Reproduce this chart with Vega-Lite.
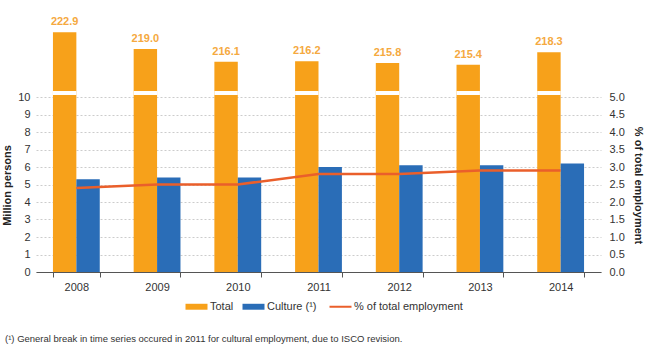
{
  "$schema": "https://vega.github.io/schema/vega-lite/v6.json",
  "width": 565,
  "height": 257,
  "autosize": {"type": "none"},
  "padding": {"left": 36, "top": 15, "right": 60, "bottom": 72},
  "background": "white",
  "config": {
    "font": "Liberation Sans",
    "view": {"stroke": null},
    "axis": {"labelFont": "Liberation Sans", "labelFontSize": 11, "labelColor": "#333333", "titleFont": "Liberation Sans", "titleColor": "#222222"},
    "legend": {"labelFont": "Liberation Sans", "labelFontSize": 11, "labelColor": "#333333"}
  },
  "title": {
    "text": "(¹) General break in time series occured in 2011 for cultural employment, due to ISCO revision.",
    "orient": "bottom",
    "anchor": "start",
    "frame": "group",
    "dx": -31,
    "offset": 22,
    "fontSize": 9.5,
    "fontWeight": "normal",
    "color": "#333333",
    "font": "Liberation Sans"
  },
  "data": {
    "values": [
      {"year": "2008", "series": "Total", "value": 222.9},
      {"year": "2009", "series": "Total", "value": 219.0},
      {"year": "2010", "series": "Total", "value": 216.1},
      {"year": "2011", "series": "Total", "value": 216.2},
      {"year": "2012", "series": "Total", "value": 215.8},
      {"year": "2013", "series": "Total", "value": 215.4},
      {"year": "2014", "series": "Total", "value": 218.3},
      {"year": "2008", "series": "Culture (¹)", "value": 5.3},
      {"year": "2009", "series": "Culture (¹)", "value": 5.4},
      {"year": "2010", "series": "Culture (¹)", "value": 5.4},
      {"year": "2011", "series": "Culture (¹)", "value": 6.0},
      {"year": "2012", "series": "Culture (¹)", "value": 6.1},
      {"year": "2013", "series": "Culture (¹)", "value": 6.1},
      {"year": "2014", "series": "Culture (¹)", "value": 6.2},
      {"year": "2008", "series": "% of total employment", "value": 2.4},
      {"year": "2009", "series": "% of total employment", "value": 2.5},
      {"year": "2010", "series": "% of total employment", "value": 2.5},
      {"year": "2011", "series": "% of total employment", "value": 2.8},
      {"year": "2012", "series": "% of total employment", "value": 2.8},
      {"year": "2013", "series": "% of total employment", "value": 2.9},
      {"year": "2014", "series": "% of total employment", "value": 2.9}
    ]
  },
  "encoding": {
    "x": {
      "field": "year",
      "type": "nominal",
      "scale": {"domain": ["2008", "2009", "2010", "2011", "2012", "2013", "2014"], "paddingInner": 0.42, "paddingOuter": 0.21},
      "axis": {"title": null, "labelAngle": 0, "domainColor": "#555555", "tickColor": "#555555", "tickBand": "extent", "tickSize": 5, "labelPadding": 4}
    }
  },
  "layer": [
    {
      "layer": [
        {
          "transform": [{"filter": "datum.series !== '% of total employment'"}],
          "mark": {"type": "bar"},
          "encoding": {
            "xOffset": {"field": "series", "type": "nominal", "scale": {"domain": ["Total", "Culture (¹)"], "paddingInner": 0}},
            "y": {
              "field": "value",
              "type": "quantitative",
              "scale": {"domain": [0, 10, 10.5, 209.3, 226.9], "range": [257, 82, 80, 76, 0], "nice": false, "zero": false},
              "axis": {"title": "Million persons", "titleFontSize": 11, "titleFontWeight": "bold", "titleY": 170, "values": [0, 1, 2, 3, 4, 5, 6, 7, 8, 9, 10], "labelOverlap": false, "domain": false, "ticks": false, "grid": true, "gridColor": "#cccccc", "gridDash": [2, 2], "labelPadding": 6, "titlePadding": 5}
            },
            "color": {
              "field": "series",
              "type": "nominal",
              "scale": {"domain": ["Total", "Culture (¹)", "% of total employment"], "range": ["#F7A11A", "#2A6DB7", "#EA5F2B"]},
              "legend": {
                "title": null,
                "orient": "none",
                "legendX": 155,
                "legendY": 286,
                "direction": "horizontal",
                "symbolType": "M-1,-0.27H1V0.27H-1Z",
                "symbolSize": 484,
                "columnPadding": 8,
                "labelOffset": 8,
                "encode": {
                  "symbols": {
                    "update": {
                      "shape": {"signal": "datum.value === '% of total employment' ? 'M-1,0H1' : 'M-1,-0.27H1V0.27H-1Z'"},
                      "strokeWidth": {"signal": "datum.value === '% of total employment' ? 2 : 0"}
                    }
                  }
                }
              }
            }
          }
        },
        {
          "transform": [{"filter": "datum.series === 'Total'"}],
          "mark": {"type": "rect", "fill": "white"},
          "encoding": {
            "xOffset": {"field": "series", "type": "nominal"},
            "y": {"datum": 10.5, "type": "quantitative", "axis": {"title": "Million persons", "titleFontSize": 11, "titleFontWeight": "bold", "titleY": 170, "values": [0, 1, 2, 3, 4, 5, 6, 7, 8, 9, 10], "labelOverlap": false, "domain": false, "ticks": false, "grid": true, "gridColor": "#cccccc", "gridDash": [2, 2], "labelPadding": 6, "titlePadding": 5}},
            "y2": {"datum": 209.3}
          }
        },
        {
          "transform": [{"filter": "datum.series === 'Total'"}],
          "mark": {"type": "text", "baseline": "bottom", "dy": -5, "fontSize": 11, "fontWeight": "bold", "color": "#F5A940"},
          "encoding": {
            "xOffset": {"field": "series", "type": "nominal"},
            "y": {"field": "value", "type": "quantitative", "axis": {"title": "Million persons", "titleFontSize": 11, "titleFontWeight": "bold", "titleY": 170, "values": [0, 1, 2, 3, 4, 5, 6, 7, 8, 9, 10], "labelOverlap": false, "domain": false, "ticks": false, "grid": true, "gridColor": "#cccccc", "gridDash": [2, 2], "labelPadding": 6, "titlePadding": 5}},
            "text": {"field": "value", "type": "quantitative", "format": ".1f"}
          }
        }
      ]
    },
    {
      "transform": [{"filter": "datum.series === '% of total employment'"}],
      "mark": {"type": "line", "strokeWidth": 2.5},
      "encoding": {
        "y": {
          "field": "value",
          "type": "quantitative",
          "scale": {"domain": [0, 5], "range": [257, 82], "nice": false},
          "axis": {"orient": "right", "title": "% of total employment", "titleFontSize": 11, "titleFontWeight": "bold", "titleY": 170, "values": [0, 0.5, 1, 1.5, 2, 2.5, 3, 3.5, 4, 4.5, 5], "labelOverlap": false, "format": ".1f", "domain": false, "ticks": false, "grid": false, "labelPadding": 8, "titlePadding": 8}
        },
        "color": {"field": "series", "type": "nominal"}
      }
    }
  ],
  "resolve": {"scale": {"y": "independent"}}
}
